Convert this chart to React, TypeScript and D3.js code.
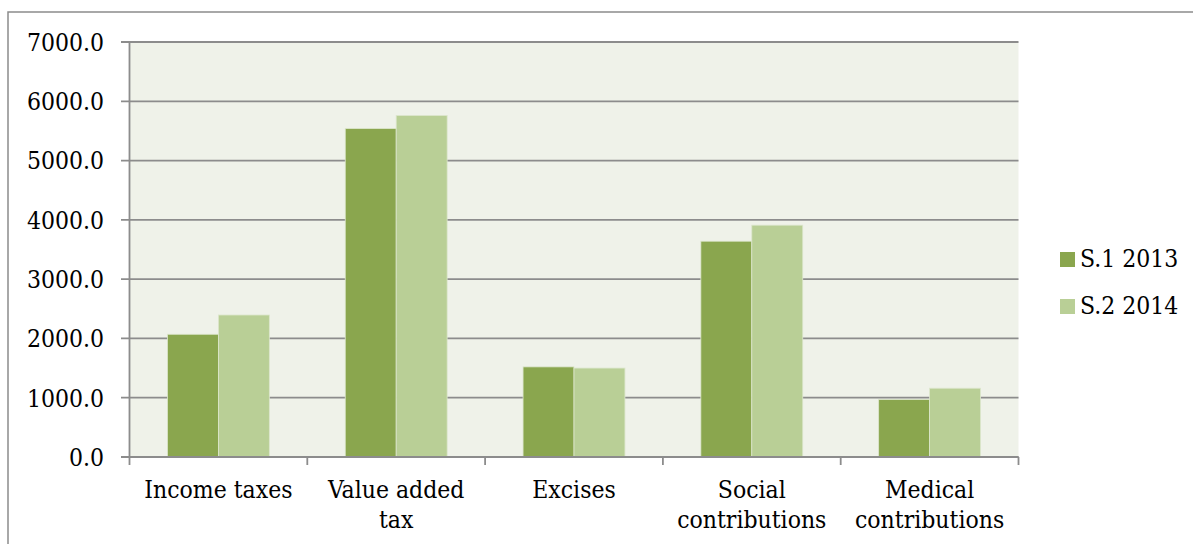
import React from "react";
import * as d3 from "d3";

const categories: string[][] = [
  ["Income taxes"],
  ["Value added", "tax"],
  ["Excises"],
  ["Social", "contributions"],
  ["Medical", "contributions"],
];
const seriesNames = ["S.1 2013", "S.2 2014"];
const s1Values = [2070, 5540, 1520, 3640, 970];
const s2Values = [2395, 5760, 1500, 3910, 1160];
const yTicks = [0, 1000, 2000, 3000, 4000, 5000, 6000, 7000];
const colors = ["#8AA64E", "#B9CF96"];

const W = 1193;
const H = 544;
const plot = { left: 129.5, right: 1018.5, top: 42, bottom: 457 };
const FONT = "'DejaVu Serif Condensed', 'DejaVu Serif', serif";
const FS = 24.5;

export default function App() {
  const keys = categories.map((c) => c.join(" "));
  const x = d3.scaleBand<string>().domain(keys).range([plot.left, plot.right]).padding(0);
  const xs = d3
    .scaleBand<string>()
    .domain(seriesNames)
    .range([0, x.bandwidth()])
    .paddingInner(0)
    .paddingOuter(0.745);
  const y = d3.scaleLinear().domain([0, 7000]).range([plot.bottom, plot.top]);
  const series = [s1Values, s2Values];

  const gridColor = "#8c8c8c";

  return (
    <svg
      width={W}
      height={H}
      style={{ position: "absolute", left: 0, top: 0, background: "#fff" }}
      fontFamily={FONT}
      fontStretch="condensed"
    >
      {/* chart frame */}
      <path d={`M8,${H} L8,12 L${W},12`} fill="none" stroke="#8c8c8c" strokeWidth={1.5} />

      {/* plot background */}
      <rect
        x={plot.left}
        y={plot.top}
        width={plot.right - plot.left}
        height={plot.bottom - plot.top}
        fill="#EFF2E9"
      />

      {/* horizontal gridlines and y ticks */}
      {yTicks.map((t) => (
        <g key={t}>
          <line
            x1={plot.left - 8.5}
            x2={plot.right}
            y1={y(t)}
            y2={y(t)}
            stroke={gridColor}
            strokeWidth={1.8}
          />
          <text
            x={104}
            y={y(t)}
            dy="0.36em"
            textAnchor="end"
            fontSize={FS}
            fill="#000"
          >
            {d3.format(".1f")(t)}
          </text>
        </g>
      ))}

      {/* bars */}
      {series.map((vals, si) =>
        vals.map((v, ci) => (
          <rect
            key={`${si}-${ci}`}
            x={(x(keys[ci]) as number) + (xs(seriesNames[si]) as number)}
            y={y(v)}
            width={xs.bandwidth()}
            height={y(0) - y(v)}
            fill={colors[si]}
            stroke="#DCE6CC"
            strokeWidth={0.8}
          />
        ))
      )}

      {/* y axis line */}
      <line
        x1={plot.left}
        x2={plot.left}
        y1={plot.top}
        y2={plot.bottom}
        stroke={gridColor}
        strokeWidth={1.8}
      />

      {/* x axis baseline and category ticks */}
      <line
        x1={plot.left}
        x2={plot.right}
        y1={plot.bottom}
        y2={plot.bottom}
        stroke={gridColor}
        strokeWidth={1.8}
      />
      {[...keys.map((k) => x(k) as number), plot.right].map((px, i) => (
        <line
          key={i}
          x1={px}
          x2={px}
          y1={plot.bottom}
          y2={plot.bottom + 8}
          stroke={gridColor}
          strokeWidth={1.8}
        />
      ))}

      {/* category labels */}
      {categories.map((lines, ci) => (
        <text
          key={ci}
          x={(x(keys[ci]) as number) + x.bandwidth() / 2}
          y={498}
          textAnchor="middle"
          fontSize={FS}
          fill="#000"
        >
          {lines.map((ln, li) => (
            <tspan key={li} x={(x(keys[ci]) as number) + x.bandwidth() / 2} dy={li === 0 ? 0 : 30}>
              {ln}
            </tspan>
          ))}
        </text>
      ))}

      {/* legend */}
      {seriesNames.map((name, i) => (
        <g key={name} transform={`translate(1060, ${252 + i * 47})`}>
          <rect x={0} y={0} width={15} height={15} fill={colors[i]} />
          <text x={20} y={15} fontSize={FS} fill="#000">
            {name}
          </text>
        </g>
      ))}
    </svg>
  );
}
